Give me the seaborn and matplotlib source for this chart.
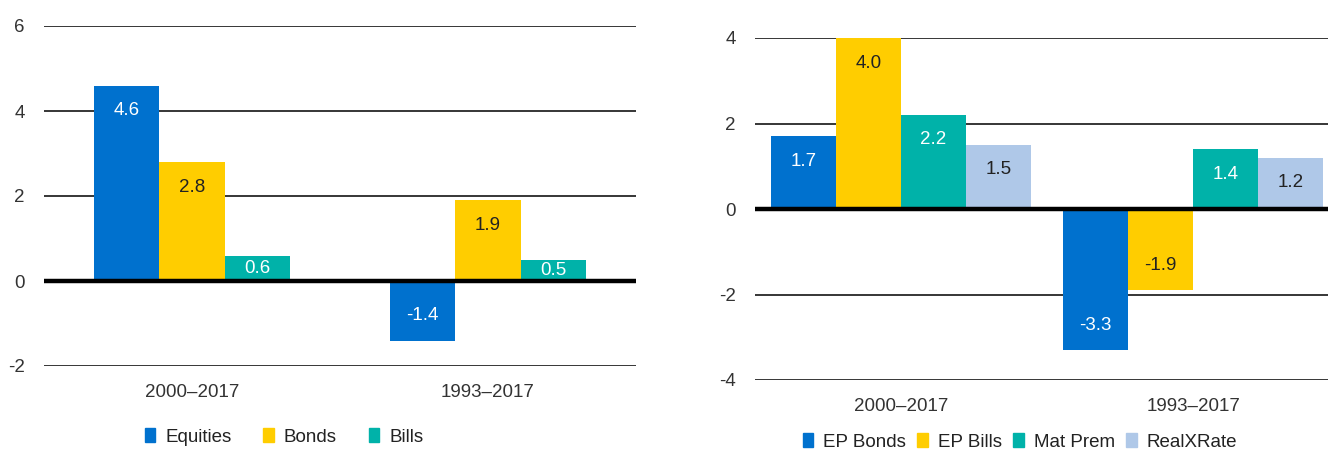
import matplotlib
matplotlib.use("Agg")
import matplotlib.pyplot as plt
import seaborn as sns
import pandas as pd
from matplotlib.patches import Patch

periods = ["2000–2017", "1993–2017"]

left_series = ["Equities", "Bonds", "Bills"]
left_equities = [4.6, -1.4]
left_bonds = [2.8, 1.9]
left_bills = [0.6, 0.5]

right_series = ["EP Bonds", "EP Bills", "Mat Prem", "RealXRate"]
right_ep_bonds = [1.7, -3.3]
right_ep_bills = [4.0, -1.9]
right_mat_prem = [2.2, 1.4]
right_realxrate = [1.5, 1.2]

left_ticks = [-2, 0, 2, 4, 6]
right_ticks = [-4, -2, 0, 2, 4]

BLUE = "#0071CE"
YELLOW = "#FFCD00"
TEAL = "#00B2A9"
LIGHT = "#AFC8E8"

left_colors = [BLUE, YELLOW, TEAL]
right_colors = [BLUE, YELLOW, TEAL, LIGHT]
left_text = ["white", "#222222", "white"]
right_text = ["white", "#222222", "white", "#222222"]

FS = 13.5

sns.set_theme(style="white")
plt.rcParams["font.family"] = ["Liberation Sans", "DejaVu Sans"]

def make_df(series, values):
    rows = []
    for s, vals in zip(series, values):
        for p, v in zip(periods, vals):
            rows.append({"period": p, "series": s, "value": v})
    return pd.DataFrame(rows)

df_left = make_df(left_series, [left_equities, left_bonds, left_bills])
df_right = make_df(right_series, [right_ep_bonds, right_ep_bills, right_mat_prem, right_realxrate])

fig = plt.figure(figsize=(13.28, 4.51), dpi=100)
ax1 = fig.add_axes([44/1328, 1-366/451, (636-44)/1328, (366-26)/451])
ax2 = fig.add_axes([755/1328, 1-380/451, (1328-755)/1328, (380-38)/451])

def draw(ax, df, series, colors, textcols, width, ylim, ticks, xlim):
    sns.barplot(data=df, x="period", y="value", hue="series", order=periods,
                hue_order=series, palette=colors, width=width, ax=ax,
                linewidth=0, saturation=1, legend=False, errorbar=None, zorder=2)
    ax.set_ylim(*ylim)
    ax.set_xlim(*xlim)
    ax.set_yticks(ticks)
    ax.set_yticklabels([str(t) for t in ticks])
    for t in ticks:
        if t == 0:
            continue
        ax.axhline(t, color="black", lw=1.1, zorder=1)
    ax.axhline(0, color="black", lw=3.2, zorder=3)
    for sp in ax.spines.values():
        sp.set_visible(False)
    ax.set_xlabel("")
    ax.set_ylabel("")
    ax.tick_params(axis="y", length=0, pad=14, labelsize=FS, labelcolor="#333333")
    ax.tick_params(axis="x", length=0, pad=13, labelsize=FS, labelcolor="#333333")
    fig.canvas.draw()
    ppu = ax.bbox.height / (ylim[1] - ylim[0])
    off = 25 / ppu
    for i, cont in enumerate(ax.containers):
        for bar in cont:
            v = bar.get_height()
            x = bar.get_x() + bar.get_width() / 2
            if abs(v) < 2 * off:
                y = v / 2
            else:
                y = v - off if v > 0 else v + off
            ax.text(x, y, f"{v:.1f}", ha="center", va="center",
                    color=textcols[i], fontsize=FS, zorder=4)

draw(ax1, df_left, left_series, left_colors, left_text, 0.665, (-2, 6), left_ticks, (-0.5, 1.5))
draw(ax2, df_right, right_series, right_colors, right_text, 0.89, (-4, 4), right_ticks, (-0.5, 1.462))

h1 = [Patch(color=c, label=s) for c, s in zip(left_colors, left_series)]
fig.legend(handles=h1, loc="center", bbox_to_anchor=(284/1328, 1-437/451), ncol=3,
           frameon=False, fontsize=FS, handlelength=0.55, handleheight=0.7,
           columnspacing=1.7, handletextpad=0.55, labelcolor="#222222")
h2 = [Patch(color=c, label=s) for c, s in zip(right_colors, right_series)]
fig.legend(handles=h2, loc="center", bbox_to_anchor=(1020/1328, 1-442/451), ncol=4,
           frameon=False, fontsize=FS, handlelength=0.55, handleheight=0.7,
           columnspacing=0.6, handletextpad=0.55, labelcolor="#222222")

fig.savefig("out.png", dpi=100)
